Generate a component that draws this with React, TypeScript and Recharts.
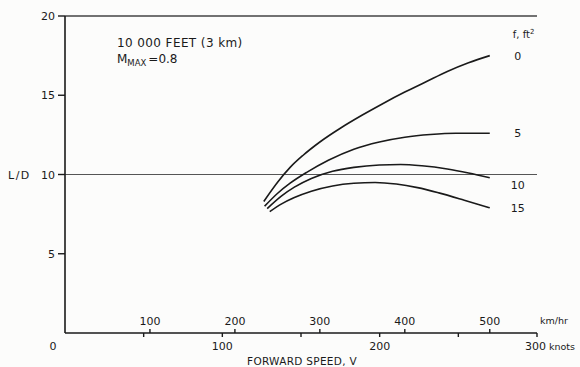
import React from 'react';
import {LineChart, Line, XAxis, YAxis, ReferenceLine} from 'recharts';

// forward speed in km/hr, lift/drag ratio for each flat-plate drag area f (ft²)
const speedF0 = [234, 250, 265, 280, 300, 325, 350, 375, 400, 425, 450, 475, 500];
const ldF0 = [8.3, 9.5, 10.45, 11.2, 12.05, 12.95, 13.75, 14.5, 15.2, 15.85, 16.5, 17.05, 17.5];

const speedF5 = [235, 250, 265, 285, 310, 340, 370, 400, 430, 460, 500];
const ldF5 = [8.0, 8.8, 9.45, 10.15, 10.9, 11.6, 12.05, 12.35, 12.52, 12.6, 12.6];

const speedF10 = [238, 255, 270, 290, 315, 340, 370, 395, 420, 450, 475, 500];
const ldF10 = [7.85, 8.65, 9.2, 9.75, 10.2, 10.45, 10.6, 10.63, 10.55, 10.35, 10.1, 9.8];

const speedF15 = [241, 255, 270, 290, 315, 340, 365, 390, 415, 440, 470, 500];
const ldF15 = [7.66, 8.15, 8.55, 8.95, 9.28, 9.45, 9.5, 9.4, 9.17, 8.84, 8.38, 7.9];

const curveLabels = ['0', '5', '10', '15'];

const kmhTicks = [100, 200, 300, 400, 500];
const knotTicks = [50, 100, 150, 200, 250, 300];
const knotLabels = [100, 200, 300];
const ldTicks = [0, 5, 10, 15, 20];

const KMH_PER_KNOT = 1.852;

const toRows = (speeds: number[], lds: number[]) =>
    speeds.map((kmh, i) => ({kmh, ld: lds[i]}));

const curves = [
    toRows(speedF0, ldF0),
    toRows(speedF5, ldF5),
    toRows(speedF10, ldF10),
    toRows(speedF15, ldF15),
];

// endpoints of the knots scale, only used to give its axis a domain
const knotSpan = [{knots: 0, ld: 0}, {knots: 300, ld: 0}];

const INK = '#1a1a1a';
const FONT = "'DejaVu Sans', sans-serif";

const LdTick = (props: any) => {
    const {x, y, payload} = props;
    if (payload.value === 0) {
        return <text x={x - 2} y={y + 17} textAnchor="middle" fontSize={11} fill={INK}>0</text>;
    }
    return (
        <g>
            <line x1={x + 3} x2={x + 10} y1={y} y2={y} stroke={INK} strokeWidth={1.4}/>
            <text x={x} y={y + 4} textAnchor="end" fontSize={11} fill={INK}>{payload.value}</text>
            {payload.value === 10 && (
                <text x={8} y={y + 4} fontSize={11} letterSpacing={1.5} fill={INK}>L/D</text>
            )}
        </g>
    );
};

const KmhTick = (props: any) => {
    const {x, y, payload} = props;
    return <text x={x} y={y} textAnchor="middle" fontSize={11} fill={INK}>{payload.value}</text>;
};

const KnotTick = (props: any) => {
    const {x, y, payload} = props;
    if (!knotLabels.includes(payload.value)) return <g/>;
    if (payload.value === 300) {
        return (
            <text x={x - 12} y={y + 4} fontSize={11} fill={INK}>
                300<tspan fontSize={9.5} dx={3}>knots</tspan>
            </text>
        );
    }
    return <text x={x} y={y + 4} textAnchor="middle" fontSize={11} fill={INK}>{payload.value}</text>;
};

const endLabel = (index: number) => (props: any) => {
    const {x, y, index: i} = props;
    if (i !== curves[index].length - 1) return <g/>;
    const dy = index === 2 ? 11 : 4;
    return (
        <g>
            <text x={x + 28} y={y + dy} textAnchor="middle" fontSize={11} fill={INK}>
                {curveLabels[index]}
            </text>
            {index === 0 && (
                <text x={x + 23} y={y - 18} fontSize={10} fill={INK}>
                    f, ft<tspan fontSize={7} dy={-4}>2</tspan>
                </text>
            )}
        </g>
    );
};

export default function App() {
    return (
        <div style={{position: 'absolute', left: 0, top: 0, background: '#fcfcfb', fontFamily: FONT}}>
            <LineChart width={580} height={367} margin={{top: 16, right: 43, left: 10, bottom: 5}}
                       style={{fontFamily: FONT}}>
                <XAxis xAxisId="kmh" dataKey="kmh" type="number" domain={[0, 300 * KMH_PER_KNOT]}
                       ticks={kmhTicks} mirror height={1} tickSize={4} tickMargin={4}
                       axisLine={{stroke: INK, strokeWidth: 1.6}} tickLine={{stroke: INK, strokeWidth: 1.4}}
                       tick={<KmhTick/>} allowDataOverflow/>
                <XAxis xAxisId="knots" dataKey="knots" type="number" domain={[0, 300]} ticks={knotTicks}
                       height={29} tickSize={4} tickMargin={9} axisLine={false}
                       tickLine={{stroke: INK, strokeWidth: 1.4}} tick={<KnotTick/>}/>
                <YAxis type="number" domain={[0, 20]} ticks={ldTicks} width={55} allowDataOverflow
                       tickSize={7} tickMargin={3} tickLine={false}
                       axisLine={{stroke: INK, strokeWidth: 1.6}} tick={<LdTick/>}/>
                <ReferenceLine xAxisId="kmh" y={20} stroke="#444" strokeWidth={1.3}/>
                <ReferenceLine xAxisId="kmh" y={10} stroke="#555" strokeWidth={1.2}/>
                <Line xAxisId="knots" data={knotSpan} dataKey="ld" stroke="none" dot={false}
                      legendType="none" isAnimationActive={false}/>
                {curves.map((rows, i) => (
                    <Line key={i} xAxisId="kmh" data={rows} dataKey="ld" type="monotone"
                          stroke={INK} strokeWidth={1.6} dot={false} isAnimationActive={false}
                          label={endLabel(i)}/>
                ))}
                <g fill={INK} fontFamily={FONT}>
                    <text x={117} y={47} fontSize={12} letterSpacing={0.4}>10 000 FEET (3 km)</text>
                    <text x={117} y={63} fontSize={12}>
                        M<tspan fontSize={8.5} dy={3}>MAX</tspan><tspan dy={-3} dx={2}>=0.8</tspan>
                    </text>
                    <text x={540} y={324} fontSize={9.5}>km/hr</text>
                    <text x={302} y={365} textAnchor="middle" fontSize={10.5} letterSpacing={0.3}>
                        FORWARD SPEED, V
                    </text>
                </g>
            </LineChart>
        </div>
    );
}
